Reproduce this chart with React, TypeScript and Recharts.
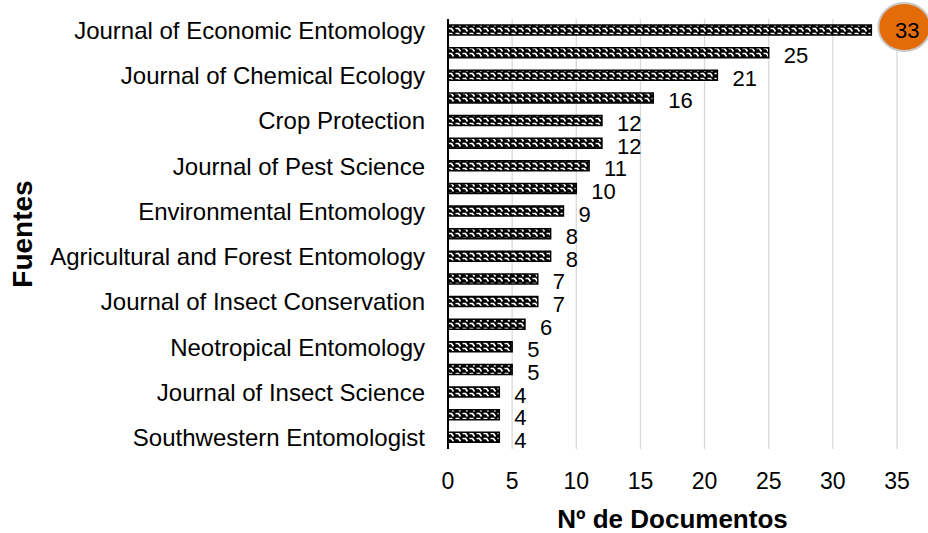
import { BarChart, Bar, XAxis, YAxis, CartesianGrid, LabelList } from "recharts";

const sources = [
  "Journal of Economic Entomology",
  "",
  "Journal of Chemical Ecology",
  "",
  "Crop Protection",
  "",
  "Journal of Pest Science",
  "",
  "Environmental Entomology",
  "",
  "Agricultural and Forest Entomology",
  "",
  "Journal of Insect Conservation",
  "",
  "Neotropical Entomology",
  "",
  "Journal of Insect Science",
  "",
  "Southwestern Entomologist",
];

const documents = [33, 25, 21, 16, 12, 12, 11, 10, 9, 8, 8, 7, 7, 6, 5, 5, 4, 4, 4];

const xTicks = [0, 5, 10, 15, 20, 25, 30, 35];

const FONT = "'Liberation Sans', Arial, sans-serif";

const chartData = documents.map((value, i) => ({
  id: `s${i}`,
  name: sources[i],
  value,
}));

const renderValueLabel = (props: any) => {
  const { x, y, width, height, value, index } = props;
  const cy = y + height / 2;
  if (index === 0) {
    const cx = x + width + 33;
    return (
      <g>
        <ellipse cx={cx} cy={cy - 3} rx={26} ry={24} fill="#E36C09" stroke="#c8c8c8" strokeWidth={2} />
        <text x={cx + 3} y={cy} fontSize={22} fontFamily={FONT} fill="#000" textAnchor="middle" dominantBaseline="central">
          {value}
        </text>
      </g>
    );
  }
  return (
    <text x={x + width + 15} y={cy + 3} fontSize={22} fontFamily={FONT} fill="#000" dominantBaseline="central">
      {value}
    </text>
  );
};

export default function App() {
  return (
    <div style={{ position: "absolute", left: 0, top: 0, width: 928, height: 533, background: "#fff" }}>
      <BarChart
        width={928}
        height={533}
        data={chartData}
        layout="vertical"
        margin={{ top: 19, right: 31, bottom: 0, left: 0 }}
        barCategoryGap={0}
      >
        <defs>
          <pattern id="hatch" width={7} height={10} patternUnits="userSpaceOnUse" y={0}>
            <rect width={7} height={10} fill="#000" />
            <path d="M0.5,3.5 L3.5,3.5 L5.5,6.5 M0.5,8.5 L3.5,8.5 L5.5,11.5 M0.5,-1.5 L3.5,-1.5 L5.5,1.5" stroke="#fff" strokeWidth={1.7} fill="none" />
          </pattern>
        </defs>
        <CartesianGrid horizontal={false} stroke="#d9d9d9" strokeWidth={1.3} />
        <XAxis
          type="number"
          domain={[0, 35]}
          ticks={xTicks}
          axisLine={false}
          tickLine={false}
          tickMargin={18}
          height={84}
          tick={{ fontSize: 23, fill: "#000", fontFamily: FONT }}
          label={{
            value: "Nº de Documentos",
            position: "insideBottom",
            offset: 5,
            style: { fontSize: 26, fontWeight: "bold", fill: "#000", fontFamily: FONT },
          }}
        />
        <YAxis
          type="category"
          dataKey="id"
          width={448}
          interval={0}
          axisLine={{ stroke: "#000", strokeWidth: 2 }}
          tickLine={false}
          tickMargin={17}
          tickFormatter={(v: string, i: number) => sources[i]}
          tick={{ fontSize: 24, fill: "#000", fontFamily: FONT }}
          label={{
            value: "Fuentes",
            angle: -90,
            position: "insideLeft",
            offset: 22,
            style: { fontSize: 28, fontWeight: "bold", fill: "#000", fontFamily: FONT, textAnchor: "middle" },
          }}
        />
        <Bar
          dataKey="value"
          barSize={10}
          fill="url(#hatch)"
          stroke="#000"
          strokeWidth={1.5}
          isAnimationActive={false}
        >
          <LabelList dataKey="value" content={renderValueLabel} />
        </Bar>
      </BarChart>
    </div>
  );
}
